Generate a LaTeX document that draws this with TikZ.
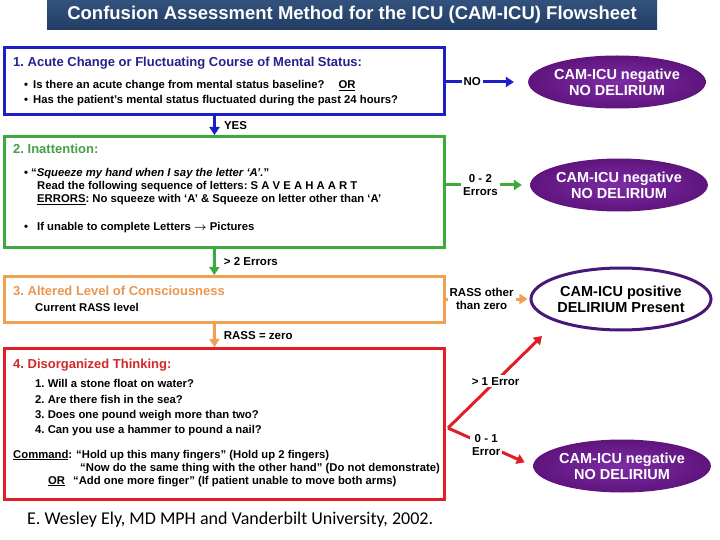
\documentclass[tikz,border=0pt]{standalone}
\usepackage{fontspec}
\setmainfont{Liberation Sans}
\newfontfamily\footfont{Carlito}
\usepackage{tikz}
\usetikzlibrary{positioning,arrows.meta,calc,shapes.geometric}
\frenchspacing
\definecolor{cBlue}{RGB}{30,30,200}
\definecolor{tBlue}{RGB}{35,35,140}
\definecolor{cGreen}{RGB}{60,170,60}
\definecolor{tGreen}{RGB}{70,160,70}
\definecolor{cOrange}{RGB}{240,160,80}
\definecolor{tOrange}{RGB}{235,150,80}
\definecolor{cRed}{RGB}{225,30,40}
\definecolor{tRed}{RGB}{210,40,40}
\definecolor{pIn}{RGB}{125,45,165}
\definecolor{pOut}{RGB}{95,20,125}
\definecolor{pLine}{RGB}{70,25,120}
\definecolor{hdA}{RGB}{50,82,125}
\definecolor{hdB}{RGB}{35,60,100}
\tikzset{
  hdr/.style={rectangle, top color=hdA, bottom color=hdB, text=white,
              minimum width=610pt, minimum height=30pt,
              font=\bfseries\fontsize{18.5}{20}\selectfont},
  stepbox/.style={rectangle, line width=3pt, fill=white, minimum width=440pt,
                  anchor=north west},
  ttl/.style={anchor=base west, inner sep=0pt, font=\bfseries\fontsize{13}{15}\selectfont},
  txt/.style={anchor=base west, inner sep=0pt, font=\bfseries\fontsize{11.3}{13}\selectfont},
  neg/.style={ellipse, inner color=pIn, outer color=pOut, text=white, align=center,
              minimum width=160pt, minimum height=53pt, inner sep=0pt,
              font=\bfseries\fontsize{14.5}{16}\selectfont},
  posi/.style={ellipse, draw=pLine, line width=3pt, fill=white, align=center,
               minimum width=157pt, minimum height=62pt, inner sep=0pt,
               font=\bfseries\fontsize{14.5}{16}\selectfont},
  flow/.style={line width=3pt, -{Triangle[length=8pt,width=10pt]}},
  vlbl/.style={font=\bfseries\fontsize{11.5}{13}\selectfont, inner sep=0pt, anchor=west,
               text=black},
  slbl/.style={font=\bfseries\fontsize{11.5}{13}\selectfont, fill=white, inner sep=2pt,
               align=center, text=black},
  foot/.style={anchor=west, inner sep=0pt, font=\footfont\fontsize{18}{20}\selectfont},
}

\begin{document}
\begin{tikzpicture}[x=1pt,y=-1pt]
  \useasboundingbox (0,0) rectangle (720,540);
  \fill[white] (0,0) rectangle (720,540);

  % ---- banner ----
  \node[hdr] (hd) at (352,15) {Confusion Assessment Method for the ICU (CAM-ICU) Flowsheet};

  % ---- four steps ----
  \node[stepbox, draw=cBlue, minimum height=67pt] (b1) at (3,46) {};
  \node[stepbox, draw=cGreen, minimum height=111pt] (b2) at (3,135) {};
  \node[stepbox, draw=cOrange, line width=2.5pt, minimum height=46pt] (b3) at (3,275) {};
  \node[stepbox, draw=cRed, minimum height=151pt] (b4) at (3,347) {};

  % step 1
  \node[ttl, text=tBlue] (h1) at (13,67) {1. Acute Change or Fluctuating Course of Mental Status:};
  \node[txt] (q11) at (24,89) {\textbullet\hspace{5pt}Is there an acute change from mental status baseline?\hspace{14pt}\underline{OR}};
  \node[txt] (q12) at (24,104) {\textbullet\hspace{5pt}Has the patient's mental status fluctuated during the past 24 hours?};

  % step 2
  \node[ttl, text=tGreen] (h2) at (13,154) {2. Inattention:};
  \node[txt] (q21) at (24,177) {\textbullet\hspace{3pt}``\textit{Squeeze my hand when I say the letter `A'.}''};
  \node[txt] (q22) at (37,190) {Read the following sequence of letters: S A V E A H A A R T};
  \node[txt] (q23) at (37,203) {\underline{ERRORS}: No squeeze with `A' \& Squeeze on letter other than `A'};
  \node[txt] (q24) at (24,230) {\textbullet\hspace{9pt}If unable to complete Letters {\boldmath$\rightarrow$} Pictures};

  % step 3
  \node[ttl, text=tOrange] (h3) at (13,295) {3. Altered Level of Consciousness};
  \node[txt] (q31) at (35,311) {Current RASS level};

  % step 4
  \node[ttl, text=tRed] (h4) at (13,368) {4. Disorganized Thinking:};
  \node[txt] (q41) at (35,387) {1. Will a stone float on water?};
  \node[txt] (q42) at (35,403) {2. Are there fish in the sea?};
  \node[txt] (q43) at (35,418) {3. Does one pound weigh more than two?};
  \node[txt] (q44) at (35,433) {4. Can you use a hammer to pound a nail?};
  \node[txt] (c1) at (13,458) {\underline{Command}:\hspace{4pt}``Hold up this many fingers'' (Hold up 2 fingers)};
  \node[txt] (c2t) at (80,471) {``Now do the same thing with the other hand'' (Do not demonstrate)};
  \node[txt] (c3) at (48,484) {\underline{OR}\hspace{8pt}``Add one more finger'' (If patient unable to move both arms)};

  % ---- outcomes ----
  \node[neg] (r1) at (617,82) {CAM-ICU negative\\NO DELIRIUM};
  \node[neg] (r2) at (619,185) {CAM-ICU negative\\NO DELIRIUM};
  \node[posi] (r3) at (621,299) {CAM-ICU positive\\DELIRIUM Present};
  \node[neg] (r4) at (622,466) {CAM-ICU negative\\NO DELIRIUM};

  % ===== down the steps =====
  \draw[flow, cBlue] ([xshift=-10pt]b1.south) -- node[vlbl, xshift=8pt]{YES} ([xshift=-10pt]b2.north);
  \draw[flow, cGreen] ([xshift=-10pt]b2.south) -- node[vlbl, xshift=8pt]{> 2 Errors} ([xshift=-10pt]b3.north);
  \draw[flow, cOrange] ([xshift=-10pt]b3.south) -- node[vlbl, xshift=8pt]{RASS = zero} ([xshift=-10pt]b4.north);

  % ===== out to the results =====
  \draw[flow, cBlue, shorten >=14pt] (b1.east |- r1.west) -- node[slbl, pos=0.32]{NO} (r1.west);
  \draw[flow, cGreen, shorten >=8pt] (b2.east |- r2.west) -- node[slbl, pos=0.41]{0 - 2\\Errors} (r2.west);
  \draw[flow, cOrange, shorten >=2pt] (b3.east |- r3.west) -- node[slbl, pos=0.43]{RASS other\\than zero} (r3.west);

  % red fork
  \coordinate (fk) at ($(b4.east)+(2,4)$);
  \draw[flow, cRed, shorten >=20pt] (fk) -- node[slbl, pos=0.44]{> 1 Error} (r3.south west);
  \draw[flow, cRed, shorten >=9pt] (fk) -- node[slbl, pos=0.45]{0 - 1\\Error} (r4.west);

  % ---- source ----
  \node[foot] (src) at (27,520) {E. Wesley Ely, MD MPH and Vanderbilt University, 2002.};

\end{tikzpicture}
\end{document}
